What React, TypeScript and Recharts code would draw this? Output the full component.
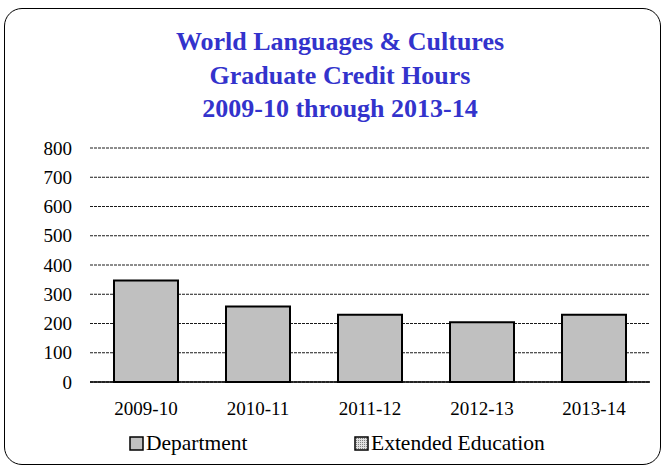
import { Bar, BarChart, CartesianGrid, Legend, XAxis, YAxis } from "recharts";

const years = ["2009-10", "2010-11", "2011-12", "2012-13", "2013-14"];
const department = [347, 258, 230, 204, 230];
const extendedEducation = [0, 0, 0, 0, 0];
const yTicks = [0, 100, 200, 300, 400, 500, 600, 700, 800];
const titleLines = ["World Languages & Cultures", "Graduate Credit Hours", "2009-10 through 2013-14"];

const data = years.map((year, i) => ({
  year,
  department: department[i],
  extended: extendedEducation[i],
}));

const FONT = '"Liberation Serif", "Times New Roman", serif';

function LegendBox() {
  const item = (label: string, fill: string, left: number) => (
    <div style={{ position: "absolute", left, top: 0, display: "flex", alignItems: "center" }}>
      <svg width={15} height={15} style={{ marginRight: 2 }}>
        <rect x={1} y={1} width={13} height={13} fill={fill} stroke="#000" strokeWidth={1.5} />
      </svg>
      <span style={{ fontFamily: FONT, fontSize: 21.5, color: "#000", lineHeight: "24px" }}>{label}</span>
    </div>
  );
  return (
    <div style={{ position: "relative", width: 663, height: 26 }}>
      {item("Department", "#c0c0c0", 129)}
      {item("Extended Education", "url(#dots)", 354)}
    </div>
  );
}

export default function App() {
  return (
    <div style={{ position: "absolute", left: 0, top: 0, width: 663, height: 466, background: "#fff" }}>
      <div
        style={{
          position: "absolute",
          left: 4,
          top: 8,
          width: 655,
          height: 455,
          border: "1px solid #000",
          borderRadius: 18,
        }}
      />
      <div
        style={{
          position: "absolute",
          left: 0,
          top: 25,
          width: 680,
          textAlign: "center",
          fontFamily: FONT,
          fontWeight: "bold",
          fontSize: 26,
          lineHeight: "33.5px",
          color: "#3333cc",
        }}
      >
        {titleLines.map((t) => (
          <div key={t}>{t}</div>
        ))}
      </div>
      <div style={{ position: "absolute", left: 0, top: 0 }}>
        <BarChart
          width={663}
          height={466}
          data={data}
          margin={{ top: 148, right: 13, bottom: 14, left: 30 }}
          barSize={64}
        >
          <defs>
            <pattern id="dots" width="2" height="2" patternUnits="userSpaceOnUse">
              <rect width="2" height="2" fill="#e0e0e0" />
              <rect width="1" height="1" fill="#808080" />
            </pattern>
          </defs>
          <CartesianGrid vertical={false} stroke="#1a1a1a" strokeDasharray="3 1" />
          <XAxis
            dataKey="year"
            axisLine={{ stroke: "#000", strokeWidth: 1.5 }}
            tickLine={false}
            tickSize={0}
            tickMargin={20}
            height={30}
            tick={{ fontFamily: FONT, fontSize: 19, fill: "#000" }}
          />
          <YAxis
            domain={[0, 800]}
            ticks={yTicks}
            axisLine={false}
            tickLine={false}
            tickSize={0}
            tickMargin={18}
            width={60}
            interval={0}
            tick={{ fontFamily: FONT, fontSize: 19, fill: "#000" }}
          />
          <Legend
            verticalAlign="bottom"
            height={40}
            content={() => <LegendBox />}
            wrapperStyle={{ left: 0, top: 431, width: 663 }}
          />
          <Bar
            dataKey="department"
            name="Department"
            stackId="a"
            fill="#c0c0c0"
            stroke="#000"
            strokeWidth={2}
            isAnimationActive={false}
          />
          <Bar
            dataKey="extended"
            name="Extended Education"
            stackId="a"
            fill="url(#dots)"
            stroke="#000"
            strokeWidth={2}
            isAnimationActive={false}
          />
        </BarChart>
      </div>
    </div>
  );
}
